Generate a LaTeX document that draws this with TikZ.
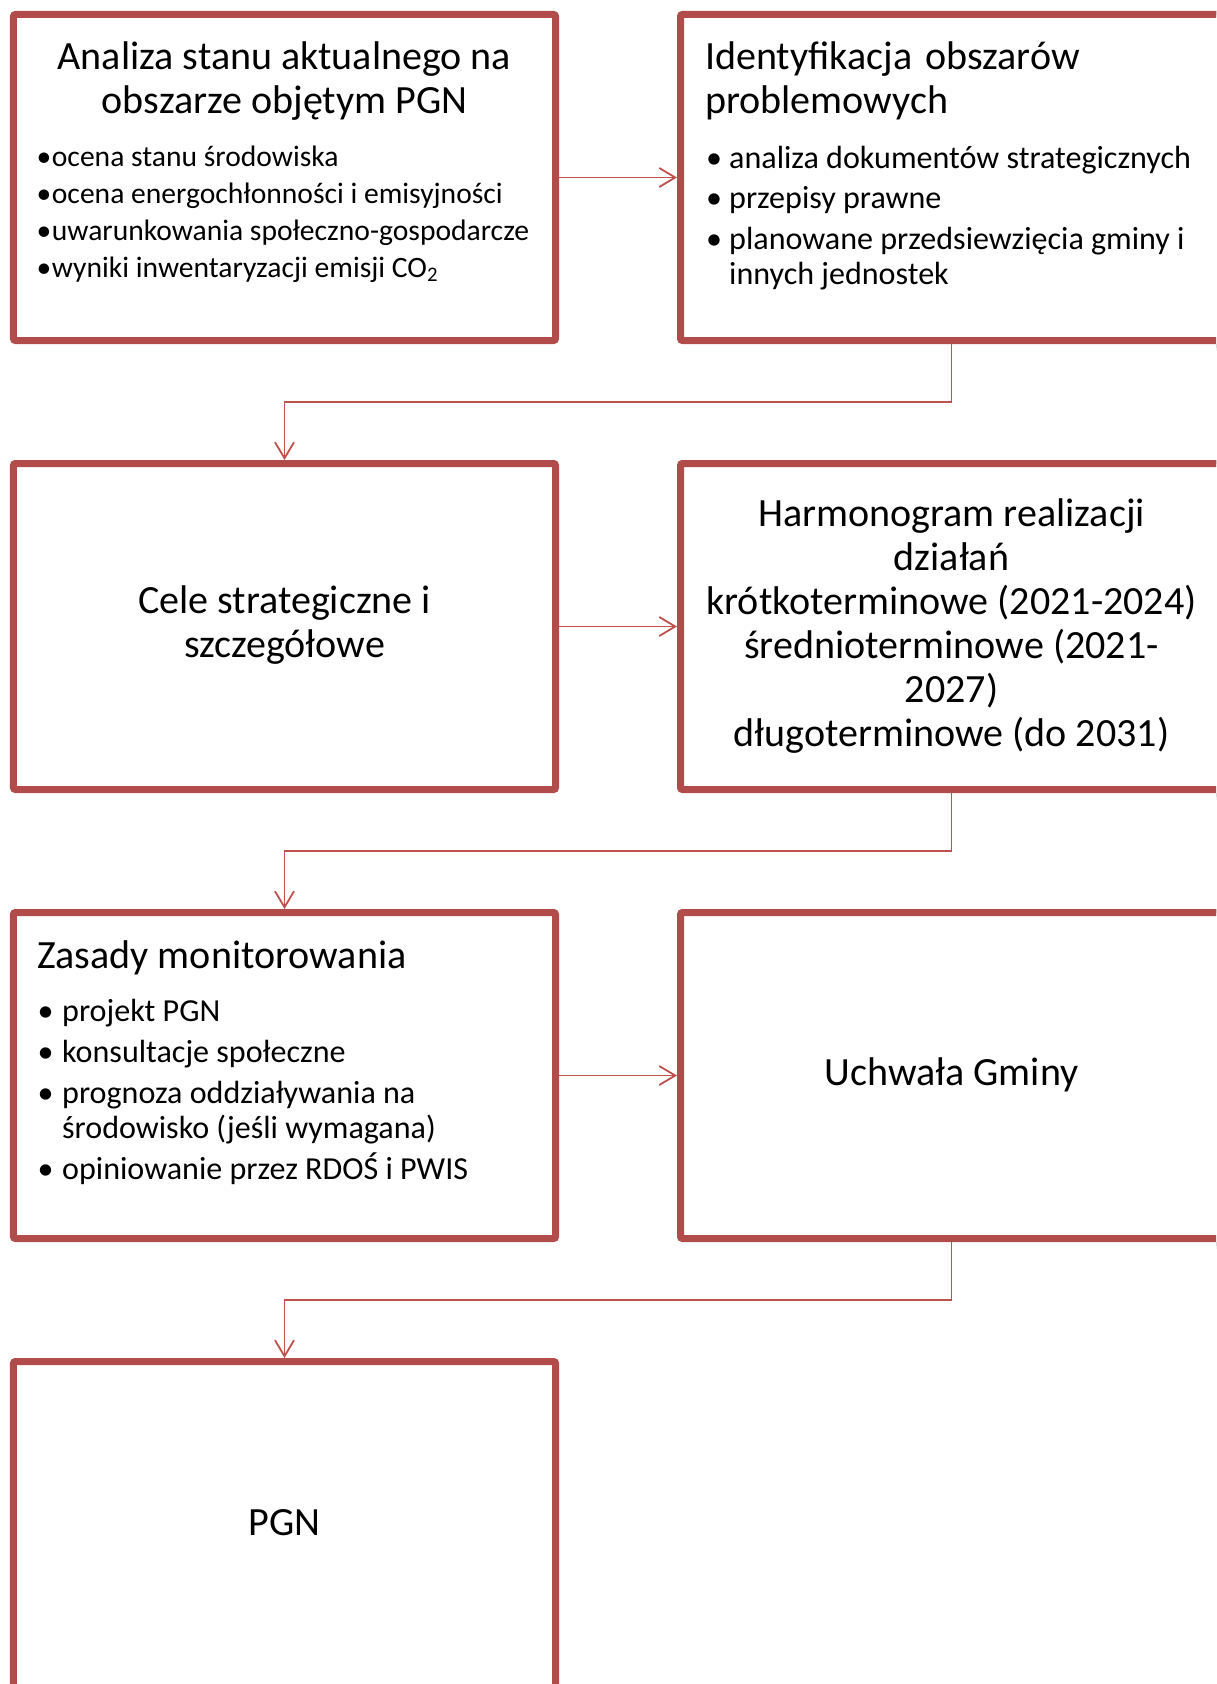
\documentclass[tikz,border=0pt]{standalone}
\usepackage{fontspec}
\setmainfont{Carlito}
\usetikzlibrary{arrows.meta,calc}
\definecolor{bordc}{RGB}{177,76,74}
\definecolor{linec}{RGB}{192,80,77}
\pgfdeclarelayer{shadowlayer}
\pgfsetlayers{shadowlayer,main}
\tikzset{
  pbox/.style={draw=bordc, line width=7bp, fill=white, rounded corners=2bp,
    minimum width=542bp, minimum height=326bp, inner sep=0pt},
  conn/.style={draw=linec, line width=1.8bp, -{Straight Barb[length=16bp,width=19bp]}},
  ttl/.style={font=\fontsize{40.2}{44}\selectfont, inner sep=0pt, anchor=base},
  bl/.style={font=\fontsize{32.2}{35}\selectfont, inner sep=0pt, anchor=base west},
  bla/.style={font=\fontsize{29.7}{32}\selectfont, inner sep=0pt, anchor=base west},
  shdA/.style={draw=black, line width=7bp, opacity=0.06},
  shdB/.style={draw=black, line width=3.5bp, opacity=0.10},
}
\begin{document}
\begin{tikzpicture}[x=1bp,y=-1bp]
\useasboundingbox (0,0) rectangle (1216,1684);
\clip (0,0) rectangle (1216,1684);
\fill[white] (0,0) rectangle (1216,1684);

% boxes
\node[pbox] (b1) at (284.5,177.5) {};
\node[pbox] (b2) at (951.5,177.5) {};
\node[pbox] (b3) at (284.5,626.5) {};
\node[pbox] (b4) at (951.5,626.5) {};
\node[pbox] (b5) at (284.5,1075.5) {};
\node[pbox] (b6) at (951.5,1075.5) {};
\node[pbox] (b7) at (284.5,1524.5) {};

% shadows
\begin{pgfonlayer}{shadowlayer}
\foreach \n in {b1,b2,b3,b4,b5,b6,b7}{
  \draw[shdA] ([shift={(2,3)}]\n.north west) rectangle ([shift={(2,3)}]\n.south east);
  \draw[shdB] ([shift={(1.5,2)}]\n.north west) rectangle ([shift={(1.5,2)}]\n.south east);
}
\end{pgfonlayer}

% connectors
\draw[conn] (b1.east) -- (b2.west);
\draw[conn] (b3.east) -- (b4.west);
\draw[conn] (b5.east) -- (b6.west);
\draw[conn] (b2.south) |- ($(b2.south)!0.5!(b3.north)$) -| (b3.north);
\draw[conn] (b4.south) |- ($(b4.south)!0.5!(b5.north)$) -| (b5.north);
\draw[conn] (b6.south) |- ($(b6.south)!0.5!(b7.north)$) -| (b7.north);

% box 1
\node[ttl] (t1a) at (284.5,70) {Analiza stanu aktualnego na};
\node[ttl] (t1b) at (284.5,113) {obszarze objętym PGN};
\node[bla, anchor=base] (d1a) at (44,166) {•};
\node[bla] (l1a) at (51.7,166) {ocena stanu środowiska};
\node[bla, anchor=base] (d1b) at (44,203) {•};
\node[bla] (l1b) at (51.7,203) {ocena energochłonności i emisyjności};
\node[bla, anchor=base] (d1c) at (44,240) {•};
\node[bla] (l1c) at (51.7,240) {uwarunkowania społeczno-gospodarcze};
\node[bla, anchor=base] (d1d) at (44,277) {•};
\node[bla] (l1d) at (51.7,277) {wyniki inwentaryzacji emisji CO\textsubscript{2}};

% box 2
\node[ttl, anchor=base west] (t2a) at (705,70) {Identyfikacja\hspace{4bp} obszarów};
\node[ttl, anchor=base west] (t2b) at (705,113) {problemowych};
\node[bl, anchor=base] (d2a) at (714,168) {•};
\node[bl] (l2a) at (729,168) {analiza dokumentów strategicznych};
\node[bl, anchor=base] (d2b) at (714,208) {•};
\node[bl] (l2b) at (729,208) {przepisy prawne};
\node[bl, anchor=base] (d2c) at (714,249) {•};
\node[bl] (l2c) at (729,249) {planowane przedsiewzięcia gminy i};
\node[bl] (l2d) at (729,284) {innych jednostek};

% box 3
\node[ttl] (t3a) at (284.5,613) {Cele strategiczne i};
\node[ttl] (t3b) at (284.5,657) {szczegółowe};

% box 4
\node[ttl] (t4a) at (951.5,526) {Harmonogram realizacji};
\node[ttl] (t4b) at (951.5,570) {działań};
\node[ttl] (t4c) at (951.5,614) {krótkoterminowe (2021-2024)};
\node[ttl] (t4d) at (951.5,658) {średnioterminowe (2021-};
\node[ttl] (t4e) at (951.5,702) {2027)};
\node[ttl] (t4f) at (951.5,746) {długoterminowe (do 2031)};

% box 5
\node[ttl, anchor=base west] (t5a) at (37,968) {Zasady monitorowania};
\node[bl, anchor=base] (d5a) at (45.5,1021) {•};
\node[bl] (l5a) at (62,1021) {projekt PGN};
\node[bl, anchor=base] (d5b) at (45.5,1062) {•};
\node[bl] (l5b) at (62,1062) {konsultacje społeczne};
\node[bl, anchor=base] (d5c) at (45.5,1103) {•};
\node[bl] (l5c) at (62,1103) {prognoza oddziaływania na};
\node[bl] (l5d) at (62,1138) {środowisko (jeśli wymagana)};
\node[bl, anchor=base] (d5e) at (45.5,1179) {•};
\node[bl] (l5e) at (62,1179) {opiniowanie przez RDOŚ i PWIS};

% box 6
\node[ttl] (t6a) at (951.5,1085) {Uchwała Gminy};

% box 7
\node[ttl] (t7a) at (284.5,1535) {PGN};
\end{tikzpicture}
\end{document}
